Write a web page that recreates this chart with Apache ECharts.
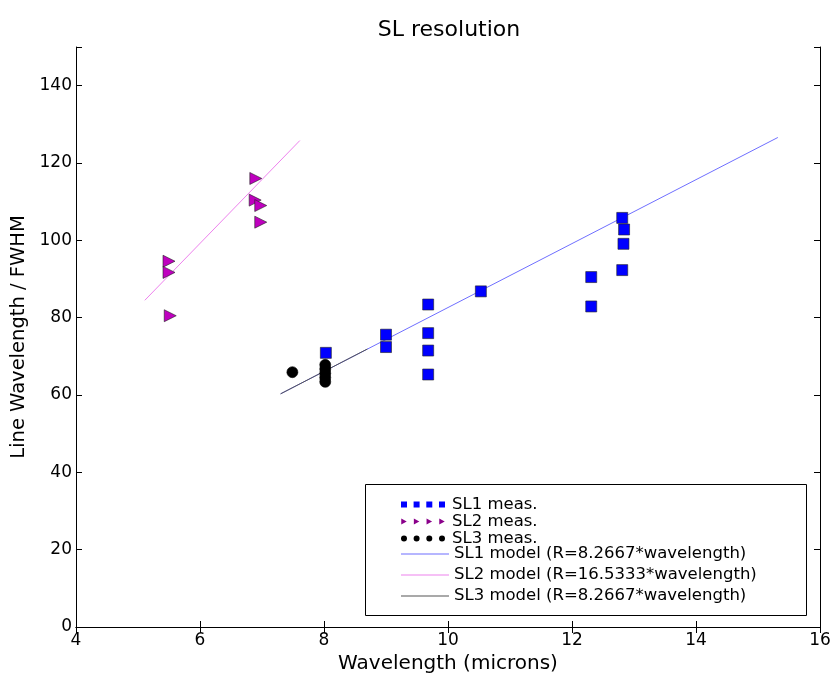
<!DOCTYPE html>
<html>
<head>
<meta charset="utf-8">
<script src="https://cdn.jsdelivr.net/npm/echarts@6/dist/echarts.min.js"></script>
<style>
  html, body { margin: 0; padding: 0; background: #fff; }
  #main { width: 835px; height: 673px; }
</style>
</head>
<body>
<div id="main"></div>
<script>
var sl1X = [8.03, 9.0, 9.0, 9.68, 9.68, 9.68, 9.68, 10.53, 12.31, 12.31, 12.81, 12.84, 12.83, 12.81];
var sl1Y = [70.9, 75.6, 72.4, 83.4, 76.0, 71.5, 65.3, 86.8, 90.5, 82.9, 105.8, 102.8, 99.1, 92.3];

var sl2X = [5.5, 5.5, 5.52, 6.9, 6.89, 6.98, 6.98];
var sl2Y = [94.6, 91.7, 80.5, 116.0, 110.4, 109.0, 104.7];

var sl3X = [7.49, 8.02, 8.02, 8.02, 8.02, 8.02];
var sl3Y = [65.9, 67.8, 66.7, 65.6, 64.5, 63.4];

// model line end points
var sl1ModelX = [7.3, 15.32];
var sl1ModelY = [60.3, 126.6];
var sl2ModelX = [5.11, 7.61];
var sl2ModelY = [84.5, 125.8];
var sl3ModelX = [7.3, 8.7];
var sl3ModelY = [60.3, 71.9];

var xTicks = [4, 6, 8, 10, 12, 14, 16];
var yTicks = [0, 20, 40, 60, 80, 100, 120, 140];

function pairs(xs, ys) {
  return xs.map(function (x, i) { return [x, ys[i]]; });
}

var font = 'DejaVu Sans';
var chartDom = document.getElementById('main');
var myChart = echarts.init(chartDom);

var lineIcon = 'path://M0,0h39v1h-39z';
var legendText = { fontFamily: font, fontSize: 16.5, color: '#000' };

var option = {
  animation: false,
  backgroundColor: '#fff',
  title: {
    text: 'SL resolution',
    left: 444,
    textAlign: 'center',
    top: 14,
    textStyle: { fontFamily: font, fontSize: 22, fontWeight: 'normal', color: '#000' }
  },
  grid: { left: 76, right: 15, top: 47, bottom: 46, containLabel: false, outerBoundsMode: 'none' },
  graphic: [
    {
      type: 'rect',
      left: 365,
      top: 484,
      shape: { width: 441, height: 131 },
      style: { fill: '#fff', stroke: '#000', lineWidth: 1 },
      z: 5
    }
  ],
  legend: [
    {
      orient: 'vertical',
      left: 365,
      top: 496,
      padding: [0, 0, 0, 36],
      itemGap: 0,
      itemWidth: 48,
      itemHeight: 6,
      textStyle: Object.assign({ lineHeight: 16 }, legendText),
      z: 10,
      data: [
        { name: 'SL1 meas.', icon: 'path://M0,0h6v6h-6z M12.6,0h6v6h-6z M25.3,0h6v6h-6z M38,0h6v6h-6z',
          itemStyle: { color: '#0000ff', borderWidth: 0 } },
        { name: 'SL2 meas.', icon: 'path://M0,0L5.5,3L0,6z M12.6,0L18.1,3L12.6,6z M25.3,0L30.8,3L25.3,6z M38,0L43.5,3L38,6z',
          itemStyle: { color: '#8a008a', borderWidth: 0 } },
        { name: 'SL3 meas.', icon: 'path://M0,3a3,3 0 1,0 6,0a3,3 0 1,0 -6,0z M12.6,3a3,3 0 1,0 6,0a3,3 0 1,0 -6,0z M25.3,3a3,3 0 1,0 6,0a3,3 0 1,0 -6,0z M38,3a3,3 0 1,0 6,0a3,3 0 1,0 -6,0z',
          itemStyle: { color: '#000', borderWidth: 0 } }
      ]
    },
    {
      orient: 'vertical',
      left: 365,
      top: 545,
      padding: [0, 0, 0, 36],
      itemGap: 3,
      itemWidth: 48,
      itemHeight: 6,
      textStyle: Object.assign({ lineHeight: 18 }, legendText),
      z: 10,
      data: [
        { name: 'SL1 model (R=8.2667*wavelength)', icon: lineIcon, itemStyle: { color: '#6f6fff', borderWidth: 0 } },
        { name: 'SL2 model (R=16.5333*wavelength)', icon: lineIcon, itemStyle: { color: '#ee82ee', borderWidth: 0 } },
        { name: 'SL3 model (R=8.2667*wavelength)', icon: lineIcon, itemStyle: { color: '#555', borderWidth: 0 } }
      ]
    }
  ],
  xAxis: [
    {
      type: 'value',
      min: xTicks[0],
      max: xTicks[xTicks.length - 1],
      interval: 2,
      name: 'Wavelength (microns)',
      nameLocation: 'middle',
      nameGap: 23,
      nameTextStyle: { fontFamily: font, fontSize: 20, color: '#000' },
      axisLine: { lineStyle: { color: '#000', width: 1 } },
      axisTick: { inside: true, length: 6, lineStyle: { color: '#000' } },
      axisLabel: { fontFamily: font, fontSize: 17, color: '#000', margin: 5 },
      splitLine: { show: false }
    },
    {
      type: 'value',
      position: 'top',
      min: xTicks[0],
      max: xTicks[xTicks.length - 1],
      interval: 2,
      axisLine: { show: true, lineStyle: { color: '#000', width: 1 } },
      axisTick: { show: true, inside: true, length: 6, lineStyle: { color: '#000' } },
      axisLabel: { show: false },
      splitLine: { show: false }
    }
  ],
  yAxis: [
    {
      type: 'value',
      min: 0,
      max: 150,
      interval: 20,
      name: 'Line Wavelength / FWHM',
      nameLocation: 'middle',
      nameGap: 38,
      nameTextStyle: { fontFamily: font, fontSize: 19.5, color: '#000' },
      axisLine: { show: true, lineStyle: { color: '#000', width: 1 } },
      axisTick: { show: true, inside: true, length: 6, lineStyle: { color: '#000' } },
      axisLabel: {
        fontFamily: font, fontSize: 17, color: '#000', margin: 4,
        formatter: function (v) { return yTicks.indexOf(v) >= 0 ? String(v) : ''; }
      },
      splitLine: { show: false }
    },
    {
      type: 'value',
      position: 'right',
      min: 0,
      max: 150,
      interval: 20,
      axisLine: { show: true, lineStyle: { color: '#000', width: 1 } },
      axisTick: { show: true, inside: true, length: 6, lineStyle: { color: '#000' } },
      axisLabel: { show: false },
      splitLine: { show: false }
    }
  ],
  series: [
    {
      name: 'SL1 model (R=8.2667*wavelength)',
      type: 'line',
      data: pairs(sl1ModelX, sl1ModelY),
      symbol: 'none',
      lineStyle: { color: '#6f6fff', width: 1 },
      itemStyle: { color: '#6f6fff' },
      z: 2
    },
    {
      name: 'SL2 model (R=16.5333*wavelength)',
      type: 'line',
      data: pairs(sl2ModelX, sl2ModelY),
      symbol: 'none',
      lineStyle: { color: '#ee82ee', width: 1 },
      itemStyle: { color: '#ee82ee' },
      z: 2
    },
    {
      name: 'SL3 model (R=8.2667*wavelength)',
      type: 'line',
      data: pairs(sl3ModelX, sl3ModelY),
      symbol: 'none',
      lineStyle: { color: '#555', width: 1 },
      itemStyle: { color: '#555' },
      z: 2
    },
    {
      name: 'SL1 meas.',
      type: 'scatter',
      data: pairs(sl1X, sl1Y),
      symbol: 'rect',
      symbolSize: 11,
      itemStyle: { color: '#0000ff', borderColor: '#222', borderWidth: 0.6, opacity: 1 },
      z: 3
    },
    {
      name: 'SL2 meas.',
      type: 'scatter',
      data: pairs(sl2X, sl2Y),
      symbol: 'triangle',
      symbolRotate: -90,
      symbolSize: 12,
      itemStyle: { color: '#bf00bf', borderColor: '#222', borderWidth: 0.6, opacity: 1 },
      z: 3
    },
    {
      name: 'SL3 meas.',
      type: 'scatter',
      data: pairs(sl3X, sl3Y),
      symbol: 'circle',
      symbolSize: 11,
      itemStyle: { color: '#000', borderColor: '#000', borderWidth: 0.6, opacity: 1 },
      z: 3
    }
  ]
};

option && myChart.setOption(option);
</script>
</body>
</html>
